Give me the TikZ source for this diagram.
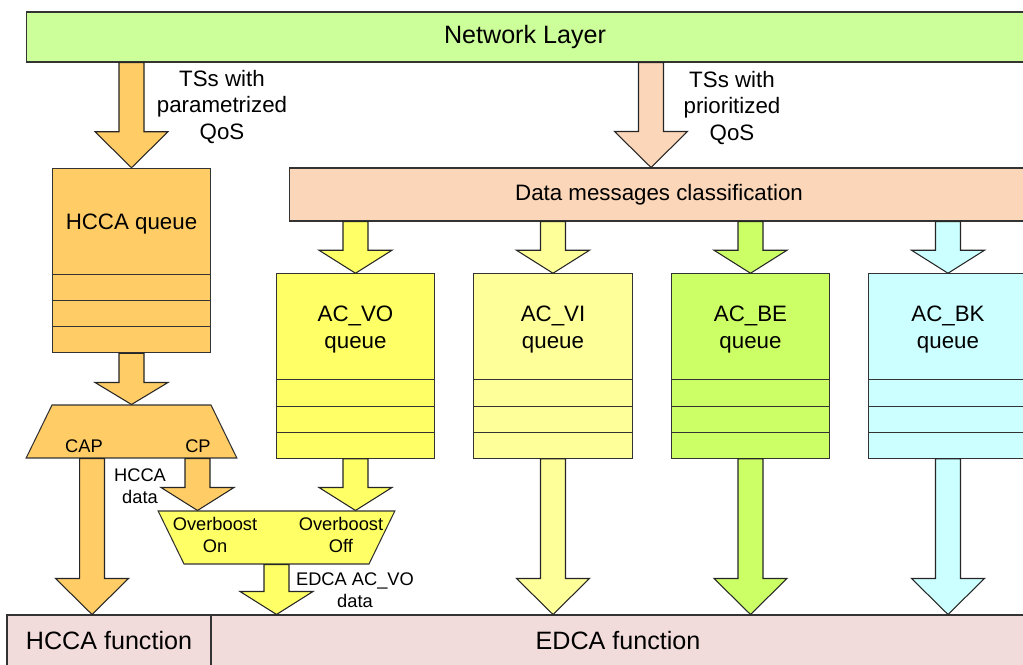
\documentclass[tikz,border=0pt]{standalone}
\usepackage{fontspec}
\setmainfont{Liberation Sans}
\usepackage{tikz}
\usetikzlibrary{shapes,calc}

\definecolor{netgreen}{HTML}{CCFF99}
\definecolor{hccaorange}{HTML}{FFCC66}
\definecolor{classpeach}{HTML}{FBD6B8}
\definecolor{voyellow}{HTML}{FFFF66}
\definecolor{viyellow}{HTML}{FFFF99}
\definecolor{begreen}{HTML}{CCFF66}
\definecolor{bkcyan}{HTML}{CCFFFF}
\definecolor{funcpink}{HTML}{F2DCDB}

\newcommand{\blockarrow}[4][0.72cm]{%
	\filldraw[fill=#2, draw=black!85, line width=0.6pt, line join=miter] let \p1=#3, \p2=#4 in
		(\x1-0.25cm,\y1) -- (\x1+0.25cm,\y1) -- (\x1+0.25cm,\y2+#1) -- (\x1+0.73cm,\y2+#1)
		-- (\x1,\y2) -- (\x1-0.73cm,\y2+#1) -- (\x1-0.25cm,\y2+#1) -- cycle;}

\begin{document}
\begin{tikzpicture}[x=0.02cm, y=-0.02cm,
		box/.style={rectangle, draw=black!80, line width=0.6pt, inner sep=0pt},
		queue/.style args={#1/#2}{box, minimum width=3.17cm, minimum height=3.69cm, fill=#1,
			label={[mid, yshift=0.73cm]center:#2}},
		splitter/.style={trapezium, trapezium angle=64, draw=black!80, line width=0.6pt,
			inner sep=0pt, text width=#1, text height=0.53cm, text depth=0.53cm},
		big/.style={font=\fontsize{14.3}{17}\selectfont},
		mid/.style={font=\fontsize{12.7}{15.1}\selectfont, align=center},
		small/.style={font=\fontsize{10.4}{12.5}\selectfont, align=center}]

	\useasboundingbox (0,0) rectangle (1023,665);
	\clip (0,0) rectangle (1023,665);

	\node[box, fill=netgreen, minimum width=19.96cm, minimum height=1cm, big] (netl) at (525,37) {Network Layer};
	\node[box, fill=classpeach, minimum width=14.8cm, minimum height=1.06cm, mid] (class) at (659,194.5) {Data messages classification};

	\node[queue={hccaorange/HCCA queue}] (hccaq) at (131.5,260.5) {};
	\node[queue={voyellow/AC\_VO\\queue}] (vo) at (355.5,366) {};
	\node[queue={viyellow/AC\_VI\\queue}] (vi) at (553,366) {};
	\node[queue={begreen/AC\_BE\\queue}] (be) at (750.5,366) {};
	\node[queue={bkcyan/AC\_BK\\queue}] (bk) at (948,366) {};

	\foreach \q in {hccaq,vo,vi,be,bk}
		\foreach \k in {1,2,3}
			\draw[draw=black!80, line width=0.6pt] ([yshift=\k*0.527cm]\q.south west) -- ([yshift=\k*0.527cm]\q.south east);

	\node[splitter=3.18cm, fill=hccaorange,
		label={[small, xshift=-0.95cm, yshift=-0.29cm]center:CAP},
		label={[small, xshift=1.33cm, yshift=-0.29cm]center:CP}] (split) at (131.5,431.5) {};
	\node[splitter=3.7cm, shape border rotate=180, fill=voyellow,
		label={[small, xshift=-1.23cm, yshift=0.05cm]center:Overboost\\On},
		label={[small, xshift=1.29cm, yshift=0.05cm]center:Overboost\\Off}] (over) at (276.5,537.5) {};

	\node[box, fill=funcpink, minimum width=4.08cm, minimum height=1.04cm, big] (hccaf) at (109,641) {HCCA function};
	\node[box, fill=funcpink, minimum width=16.28cm, minimum height=1.04cm, big] (edcaf) at (618,641) {EDCA function};

	\node[mid] (tsparam) at (222,107) {TSs with\\parametrized\\QoS};
	\node[mid] (tsprio) at (732,108) {TSs with\\prioritized\\QoS};
	\node[small] (hccadata) at (140,486) {HCCA\\data};
	\node[small] (edcadata) at (355,590) {EDCA AC\_VO\\data};

	\blockarrow{hccaorange}{(hccaq.north |- netl.south)}{(hccaq.north)}
	\blockarrow{classpeach}{([xshift=-0.16cm]class.north |- netl.south)}{([xshift=-0.16cm]class.north)}
	\foreach \q/\c in {vo/voyellow, vi/viyellow, be/begreen, bk/bkcyan}
		{\blockarrow[0.46cm]{\c}{(\q.north |- class.south)}{(\q.north)}}
	\blockarrow[0.44cm]{hccaorange}{(hccaq.south)}{(split.north)}
	\blockarrow{hccaorange}{([xshift=-0.79cm]split.south)}{([xshift=-0.79cm]split.south |- hccaf.north)}
	\blockarrow[0.46cm]{hccaorange}{([xshift=1.32cm]split.south)}{([xshift=1.32cm]split.south |- over.north)}
	\blockarrow[0.46cm]{voyellow}{(vo.south)}{(vo.south |- over.north)}
	\blockarrow[0.46cm]{voyellow}{(over.south)}{(over.south |- edcaf.north)}
	\foreach \q/\c in {vi/viyellow, be/begreen, bk/bkcyan}
		{\blockarrow{\c}{(\q.south)}{(\q.south |- edcaf.north)}}

\end{tikzpicture}
\end{document}
